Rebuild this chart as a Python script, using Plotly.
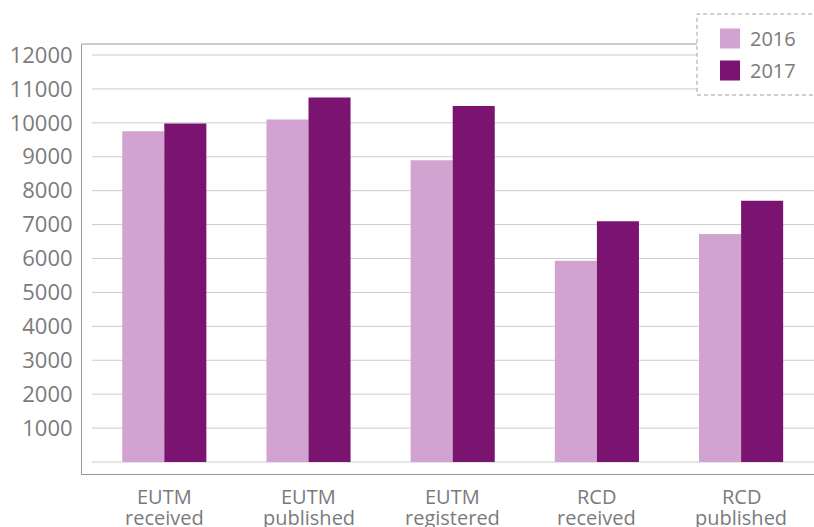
import plotly.graph_objects as go

# ---- data ----
categories = ["EUTM received", "EUTM published", "EUTM registered", "RCD received", "RCD published"]
line1 = ["EUTM", "EUTM", "EUTM", "RCD", "RCD"]
line2 = ["received", "published", "registered", "received", "published"]
values_2016 = [9750, 10100, 8900, 5930, 6720]
values_2017 = [9980, 10750, 10500, 7100, 7700]
series_names = ["2016", "2017"]
tick_values = [1000, 2000, 3000, 4000, 5000, 6000, 7000, 8000, 9000, 10000, 11000, 12000]
grid_values = [0] + tick_values

# ---- style ----
C16 = "#d2a2d0"
C17 = "#7a1470"
TXT = "#7b7b7b"
FONT = "Open Sans"
W, H = 814, 527
ML, MR, MT, MB = 82, 0, 44, 53
PW, PH = W - ML - MR, H - MT - MB

x_idx = list(range(len(categories)))

fig = go.Figure()
fig.add_trace(go.Bar(x=x_idx, y=values_2016, name=series_names[0], marker_color=C16,
                     marker_line_width=0, showlegend=False))
fig.add_trace(go.Bar(x=x_idx, y=values_2017, name=series_names[1], marker_color=C17,
                     marker_line_width=0, showlegend=False))
# legend entries (square swatches)
for nm, col in zip(series_names, [C16, C17]):
    fig.add_trace(go.Scatter(x=[None], y=[None], mode="markers", name=nm, legendgroup=nm,
                             marker=dict(symbol="square", size=16, color=col,
                                         line=dict(color=col, width=4))))

shapes = []
# gridlines
for v in grid_values:
    shapes.append(dict(type="line", xref="paper", yref="y", x0=10 / PW, x1=1, y0=v, y1=v,
                       line=dict(color="#cccccc", width=1), layer="below"))
# top frame line
shapes.append(dict(type="line", xref="paper", yref="paper", x0=0, x1=1, y0=1, y1=1,
                   line=dict(color="#9a9a9a", width=1), layer="above"))
# legend dashed box
shapes.append(dict(type="rect", xref="paper", yref="paper",
                   x0=(697 - ML) / PW, x1=1.05, y0=(MT + PH - 95) / PH, y1=(MT + PH - 14) / PH,
                   line=dict(color="#a0a0a0", width=1, dash="4px,3px"),
                   fillcolor="white", layer="above"))

annotations = []
for i in x_idx:
    annotations.append(dict(x=i, xref="x", y=-0.053, yref="paper", text=line1[i],
                            showarrow=False, yanchor="middle",
                            font=dict(family=FONT, size=20, color=TXT)))
    annotations.append(dict(x=i, xref="x", y=-0.102, yref="paper", text=line2[i],
                            showarrow=False, yanchor="middle",
                            font=dict(family=FONT, size=20, color=TXT)))

px_per = (462 - 55) / 12000.0
y_lo = -(474 - 462) / px_per
y_hi = 12000 + (55 - 44) / px_per
cat_px = 144.2
c0 = 164.3
x_lo = (ML - c0) / cat_px
x_hi = (W - MR - c0) / cat_px

fig.update_layout(
    width=W, height=H,
    margin=dict(l=ML, r=MR, t=MT, b=MB, pad=0),
    paper_bgcolor="white", plot_bgcolor="white",
    barmode="group", bargap=1 - 84 / 144.0, bargroupgap=0,
    font=dict(family=FONT, color=TXT),
    xaxis=dict(range=[x_lo, x_hi], showgrid=False, zeroline=False, showticklabels=False,
               showline=True, linecolor="#9a9a9a", linewidth=1, ticks=""),
    yaxis=dict(range=[y_lo, y_hi], showgrid=False, zeroline=False,
               tickvals=tick_values, ticktext=[str(v) for v in tick_values],
               tickfont=dict(family=FONT, size=22, color=TXT),
               showline=True, linecolor="#9a9a9a", linewidth=1, ticks="",
               ticklabelstandoff=4),
    legend=dict(x=(710 - ML) / PW, xanchor="left", y=(MT + PH - 19) / PH, yanchor="top",
                bgcolor="rgba(0,0,0,0)", borderwidth=0, tracegroupgap=3,
                font=dict(family=FONT, size=20, color=TXT), itemsizing="trace"),
    shapes=shapes,
    annotations=annotations,
)

fig.write_html("out.html")
